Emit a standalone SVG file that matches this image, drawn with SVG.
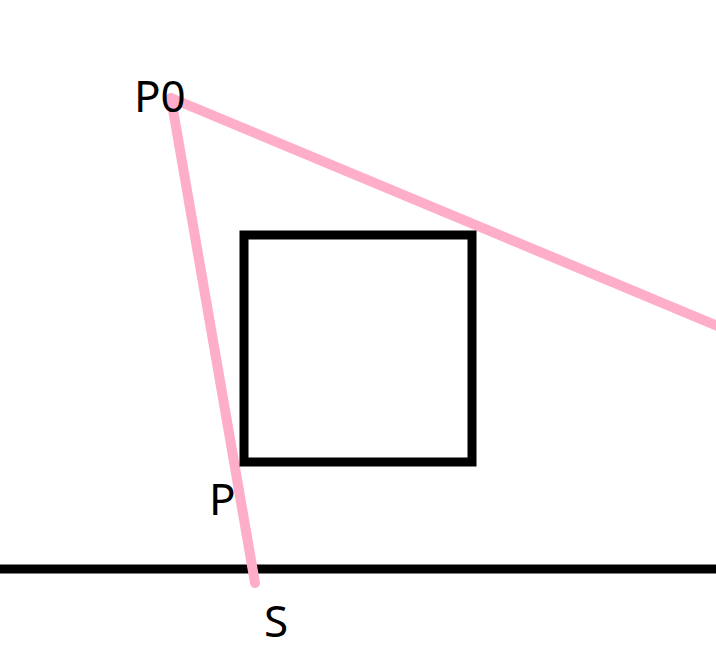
<svg xmlns="http://www.w3.org/2000/svg" width="716" height="672" viewBox="0 0 716 672">
<style>
.lbl{font-family:"Noto Sans","Open Sans",sans-serif;font-size:44px;fill:#000}
.pink{stroke:#ffaec9;stroke-width:10;stroke-linecap:round;fill:none}
.blk{stroke:#000;stroke-width:9;fill:none}
</style>
<rect width="716" height="672" fill="#fff"/>
<g id="connectors">
<line class="blk" x1="0" y1="569" x2="716" y2="569"/>
<line class="pink" x1="171" y1="98" x2="255" y2="583"/>
<line class="pink" x1="171" y1="98" x2="720" y2="327"/>
</g>
<g id="square"><rect class="blk" x="244" y="235" width="228" height="227"/></g>
<g id="label-P0"><text class="lbl" x="134" y="112">P0</text></g>
<g id="label-P"><text class="lbl" x="209" y="515">P</text></g>
<g id="label-S"><text class="lbl" x="264" y="637">S</text></g>
</svg>
